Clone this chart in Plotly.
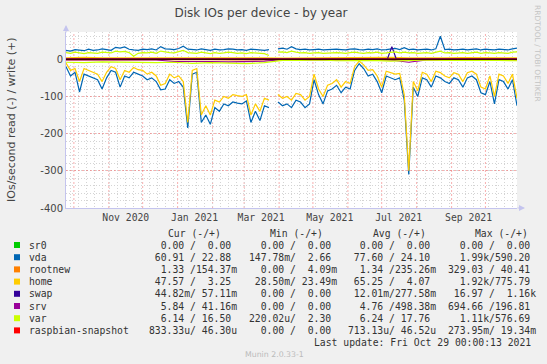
import plotly.graph_objects as go
import pandas as pd

# ---------------- data ----------------
dates = pd.date_range("2020-09-24", periods=101, freq="4D")
coarse = pd.date_range("2020-09-24", periods=26, freq="16D")

# read rates (plotted negative), write rates (plotted positive)
vda_read = [20, 45, 35, 88, 40, 45, 50, 55, 80, 50, 30,
            35, 75, 45, 50, 35, 40, 45, 55, 50, 60,
            82, 80, 55, 65, 60, 75, 185, 40, 35, 170,
            150, 175, 130, 140, 120, 125, 115, 118, 120, 112,
            170, 140, 165, 125, 130, None,
            115, 125, 120, 130, 110, 115, 130, 120, 55,
            95, 120, 85, 80, 70, 90, 75, 80, 30, 12,
            25, 45, 40, 60, 90, 45, 50, 55, 50, 110,
            310, 75, 100, 50, 55, 75, 45, 50, 60, 65,
            50, 55, 75, 50, 45, 55, 90, 95, 60, 120,
            55, 60, 80, 55, 125]
home_read = [10, 30, 25, 60, 25, 30, 35, 40, 60, 35, 20,
             25, 55, 30, 35, 22, 28, 30, 40, 35, 45,
             70, 65, 40, 50, 45, 60, 170, 30, 25, 150,
             125, 150, 110, 115, 100, 105, 95, 98, 100, 95,
             150, 120, 140, 105, 110, None,
             95, 105, 100, 110, 92, 95, 110, 100, 40,
             80, 100, 70, 65, 55, 75, 60, 65, 20, 5,
             15, 30, 28, 45, 75, 32, 35, 40, 38, 95,
             300, 60, 85, 35, 40, 60, 32, 36, 45, 50,
             36, 40, 60, 36, 32, 40, 75, 80, 45, 100,
             40, 45, 65, 40, 105]
vda_write = [24, 22, 26, 25, 23, 27, 24, 25, 28, 26, 24,
             32, 30, 33, 27, 25, 24, 27, 26, 28, 25,
             34, 28, 27, 26, 29, 35, 27, 26, 25, 28,
             26, 24, 27, 25, 26, 28, 27, 25, 26, 24,
             27, 26, 25, 24, 26, None,
             28, 30, 27, 34, 28, 26, 27, 25, 26,
             27, 25, 26, 28, 27, 26, 25, 27, 28, 26,
             25, 27, 26, 28, 25, 26, 27, 29, 26, 31,
             26, 27, 25, 26, 27, 25, 28, 62, 26, 27,
             25, 26, 27, 25, 26, 28, 25, 27, 26, 25,
             27, 26, 25, 28, 30]
var_write = [18, 16, 19, 17, 15, 18, 17, 16, 19, 18, 17,
             22, 20, 21, 18, 8, 16, 18, 17, 19, 16,
             22, 19, 18, 17, 20, 24, 18, 17, 16, 19,
             17, 15, 18, 16, 17, 19, 18, 16, 17, 15,
             18, 17, 16, 15, 10, None,
             19, 20, 18, 22, 19, 17, 18, 16, 17,
             18, 16, 17, 19, 18, 17, 16, 18, 19, 17,
             16, 18, 17, 19, 16, 17, 18, 20, 17, 19,
             17, 18, 16, 17, 18, 16, 19, 22, 17, 18,
             16, 17, 18, 16, 17, 19, 16, 18, 17, 16,
             18, 17, 16, 19, 20]

sr0_read = [0.0] * 26
sr0_write = [0.0] * 26
rootnew_read = [1.5, 1.2, 1.8, 1.0, 1.4, 1.2, 1.6, 1.3, 1.1, 1.5, 1.2, 1.4, 1.0,
                1.3, 1.6, 1.2, 1.1, 1.5, 1.3, 1.2, 1.4, 1.6, 1.1, 1.3, 1.2, 1.4]
rootnew_write = [0.2, 0.3, 0.2, 0.2, 0.3, 0.2, 0.2, 0.3, 0.2, 0.2, 0.3, 0.2, 0.2,
                 0.3, 0.2, 0.2, 0.3, 0.2, 0.2, 0.3, 0.2, 0.2, 0.3, 0.2, 0.2, 0.3]
home_write = [4, 5, 3.5, 4, 4.5, 5, 4, 3.5, 4, 5, 4.5, 4, 3,
              3.5, 4, 4, 3.5, 4, 5, 4, 3.5, 4, 4.5, 4, 3.5, 4]
srv_read = [2, 2, 1.5, 2, 2.5, 2, 6, 5, 6, 7, 6, 5, 1,
            1, 1.5, 1, 1.5, 1, 2, 8, 1.5, 1, 1, 1.5, 1, 1]
srv_write = [0.5, 0.6, 0.4, 0.5, 0.5, 0.6, 0.4, 0.5, 0.5, 0.6, 0.4, 0.5, 0.5,
             0.6, 0.4, 0.5, 0.5, 0.6, 0.4, 0.5, 0.5, 0.6, 0.4, 0.5, 0.5, 0.6]
var_read = [8, 9, 7, 8, 10, 9, 8, 11, 9, 10, 12, 9, 3,
            3, 2, 4, 3, 3, 5, 3, 2, 3, 4, 3, 3, 4]
raspbian_read = [0.0] * 26
raspbian_write = [0.0] * 26

swap_dates = ["2020-09-24", "2021-07-06", "2021-07-10", "2021-07-14", "2021-10-29"]
swap_read = [0.0, 0.0, 0.0, 0.0, 0.0]
swap_write = [0.3, 0.3, 34, 0.3, 0.3]

# legend table
names = ["sr0", "vda", "rootnew", "home", "swap", "srv", "var", "raspbian-snapshot"]
colors = ["#00CC00", "#0066B3", "#FF8000", "#FFCC00", "#330099", "#990099", "#CCFF00", "#FF0000"]
cur = [("0.00", "0.00"), ("60.91", "22.88"), ("1.33", "154.37m"), ("47.57", "3.25"),
       ("44.82m", "57.11m"), ("5.84", "41.16m"), ("6.14", "16.50"), ("833.33u", "46.30u")]
mins = [("0.00", "0.00"), ("147.78m", "2.66"), ("0.00", "4.09m"), ("28.50m", "23.49m"),
        ("0.00", "0.00"), ("0.00", "0.00"), ("220.02u", "2.30"), ("0.00", "0.00")]
avgs = [("0.00", "0.00"), ("77.60", "24.10"), ("1.34", "235.26m"), ("65.25", "4.07"),
        ("12.01m", "277.58m"), ("4.76", "498.38m"), ("6.24", "17.76"), ("713.13u", "46.52u")]
maxs = [("0.00", "0.00"), ("1.99k", "590.20"), ("329.03", "40.41"), ("1.92k", "775.79"),
        ("16.97", "1.16k"), ("694.66", "196.81"), ("1.11k", "576.69"), ("273.95m", "19.34m")]
headers = ["Cur (-/+)", "Min (-/+)", "Avg (-/+)", "Max (-/+)"]

month_starts = pd.date_range("2020-10-01", periods=13, freq="MS")
label_vals = ["2020-11-16", "2021-01-16", "2021-03-16", "2021-05-16", "2021-07-16", "2021-09-16"]
label_text = ["Nov 2020", "Jan 2021", "Mar 2021", "May 2021", "Jul 2021", "Sep 2021"]
y_ticks = [-400, -300, -200, -100, 0]

# ---------------- layout geometry ----------------
W, H = 547, 364
L, R, T, B = 66, 517, 32, 208


def px(xp):
    return (xp - L) / (R - L)


def py(yp):
    return (B - yp) / (B - T)


def neg(vals):
    return [None if v is None else -v for v in vals]


fig = go.Figure()

series = [
    ("sr0", coarse, sr0_read, sr0_write),
    ("vda", dates, vda_read, vda_write),
    ("rootnew", coarse, rootnew_read, rootnew_write),
    ("home", (dates, coarse), home_read, home_write),
    ("swap", pd.to_datetime(swap_dates), swap_read, swap_write),
    ("srv", coarse, srv_read, srv_write),
    ("var", (coarse, dates), var_read, var_write),
    ("raspbian-snapshot", coarse, raspbian_read, raspbian_write),
]
for (name, xs, rd, wr), col in zip(series, colors):
    if isinstance(xs, tuple):
        xr, xw = xs
    else:
        xr = xw = xs
    fig.add_trace(go.Scatter(x=xr, y=neg(rd), mode="lines", line=dict(color=col, width=1.2),
                             hoverinfo="skip", showlegend=False, connectgaps=False))
    fig.add_trace(go.Scatter(x=xw, y=wr, mode="lines", line=dict(color=col, width=1.2),
                             hoverinfo="skip", showlegend=False, connectgaps=False))

shapes = []
for m in month_starts:
    shapes.append(dict(type="line", xref="x", yref="paper", x0=m, x1=m, y0=0, y1=1,
                       line=dict(color="rgba(240,110,110,0.55)", width=1, dash="2px,2px"),
                       layer="below"))
shapes.append(dict(type="line", xref="paper", yref="y", x0=0, x1=1, y0=0, y1=0,
                   line=dict(color="#000000", width=1), layer="above"))

# legend squares
row_y = [245 + 12.2 * k for k in range(len(names))]
for yy, col in zip(row_y, colors):
    shapes.append(dict(type="rect", xref="paper", yref="paper",
                       x0=px(14), x1=px(20), y0=py(yy + 3), y1=py(yy - 3),
                       fillcolor=col, line=dict(width=0)))

MONO = "DejaVu Sans Mono"
SANS = "DejaVu Sans"
TXT = "#333333"


def fmt(v):
    if v[-1] in "kmuM":
        return v[:-1].rjust(6) + v[-1]
    return v.rjust(6) + " "


def cell(pair):
    return (fmt(pair[0]) + "/" + fmt(pair[1])).replace(" ", "\u00a0")


ann = []


def text(xp, yp, s, size=9.75, font=MONO, color=TXT, xanchor="left", angle=0):
    ann.append(dict(x=px(xp), y=py(yp), xref="paper", yref="paper", text=s, showarrow=False,
                    xanchor=xanchor, yanchor="middle", textangle=angle,
                    font=dict(family=font, size=size, color=color)))


for hx, h in zip([165.7, 268.0, 370.7, 473.0], headers):
    text(hx, 233, h)
col_x = [146.7, 246.5, 346.0, 445.8]
for k, name in enumerate(names):
    yy = row_y[k]
    text(26.7, yy, name)
    for cx, tbl in zip(col_x, [cur, mins, avgs, maxs]):
        text(cx, yy, cell(tbl[k]))
text(311.7, 342.6, "Last update:\u00a0Fri\u00a0Oct\u00a029\u00a000:00:13\u00a02021")
text(243, 354, "Munin 2.0.33-1", size=7.8, font=SANS, color="#bbbbbb")
text(537, 53, "RRDTOOL / TOBI OETIKER", size=7.5, font=SANS, color="#c4c4c4",
     xanchor="center", angle=90)
text(11, 120, "IOs/second read (-) / write (+)", size=11, font=SANS, color="#444444",
     xanchor="center", angle=-90)

AX = "#c4c4ee"
# axis arrows
ann.append(dict(x=0, y=py(25), xref="paper", yref="paper", ax=0, ay=9, text="",
                showarrow=True, arrowhead=2, arrowsize=1.2, arrowwidth=1, arrowcolor=AX))
ann.append(dict(x=px(525), y=0, xref="paper", yref="paper", ax=-9, ay=0, text="",
                showarrow=True, arrowhead=2, arrowsize=1.2, arrowwidth=1, arrowcolor=AX))

fig.update_layout(
    width=W, height=H,
    margin=dict(l=L, r=W - R, t=T, b=H - B, pad=0),
    paper_bgcolor="#f0f0f0", plot_bgcolor="#ffffff",
    title=dict(text="Disk IOs per device - by year", x=261 / W, xref="container",
               y=1 - 13 / H, yref="container", xanchor="center", yanchor="middle",
               font=dict(family=SANS, size=12, color="#444444")),
    shapes=shapes, annotations=ann,
    xaxis=dict(range=[dates[0], dates[-1]], tickmode="array", tickvals=label_vals,
               ticktext=label_text, showgrid=False, zeroline=False,
               showline=True, linecolor=AX, linewidth=1, ticks="",
               tickfont=dict(family=MONO, size=9.75, color="#444444"),
               minor=dict(dtick=7 * 86400000, tick0="2020-09-28", showgrid=True,
                          gridcolor="#d4d4d4", griddash="1px,2px", gridwidth=1)),
    yaxis=dict(range=[-400, 73.3], tickmode="array", tickvals=y_ticks,
               ticktext=[str(v) for v in y_ticks], showgrid=True,
               gridcolor="rgba(240,110,110,0.55)", griddash="2px,2px", gridwidth=1,
               zeroline=False, showline=True, linecolor=AX, linewidth=1, ticks="",
               tickfont=dict(family=SANS, size=10, color="#444444"),
               minor=dict(dtick=20, tick0=0, showgrid=True, gridcolor="#d4d4d4",
                          griddash="1px,2px", gridwidth=1)),
)

fig.write_html("out.html", config={"displayModeBar": False},
               post_script="document.body.style.margin='0px';document.body.style.padding='0px';")
